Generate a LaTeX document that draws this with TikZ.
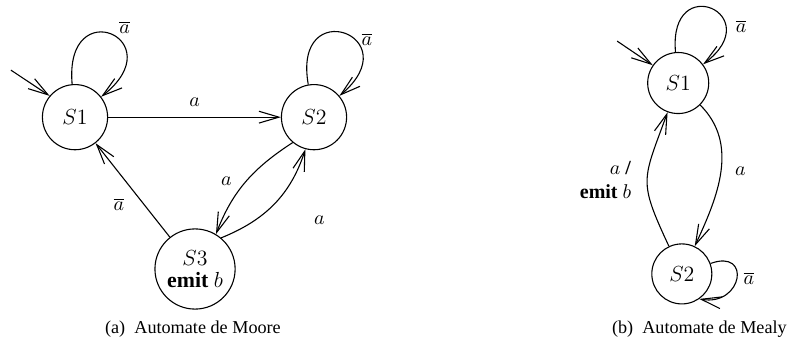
\documentclass[tikz,border=0pt]{standalone}
\usepackage[no-math]{fontspec}
\setmainfont{Liberation Serif}
\usetikzlibrary{arrows.meta,positioning}
\tikzset{
  st/.style    ={draw, circle, minimum size=12.6mm, inner sep=0pt,
                 line width=0.6pt, font=\large},
  trans/.style ={-{Straight Barb[length=11pt, width=6.5pt]}, line width=0.6pt},
  lbl/.style   ={font=\fontsize{11}{13}\selectfont, inner sep=1.5pt},
  capt/.style  ={font=\normalsize},
}

\begin{document}
\begin{tikzpicture}
  \useasboundingbox (0,0) rectangle (15.31,6.785);
  % automate de Moore
  \node[st] (s1) at (1.45,4.52) {$S1$};
  \node[st] (s2) at (6.07,4.52) {$S2$};
  \node[st, minimum size=15.5mm, align=center] (s3) at (3.77,1.585)
    {$S3$\\[-2pt]\textbf{emit} $b$};
  \coordinate (i1) at (0.21,5.43);
  \draw[trans] (i1) -- (s1.140);
  \draw[trans] (s1) to[out=95, in=38, distance=1.8cm]
    node[lbl, pos=0.55, above right] {$\overline{a}$} (s1);
  \draw[trans] (s2) to[out=100, in=40, distance=1.8cm]
    node[lbl, pos=0.6, right=2pt] {$\overline{a}$} (s2);
  \draw[trans] (s1) -- (s2) node[lbl, midway, above=4pt] {$a$};
  \draw[trans] (s3) -- (s1) node[lbl, pos=0.35, left=9pt] {$\overline{a}$};
  \draw[trans] (s2.230) to[out=213, in=69]
    node[lbl, midway, left=6pt] {$a$} (s3.59);
  \draw[trans] (s3.50) to[out=22, in=252]
    node[lbl, midway, below right=5pt and 20pt] {$a$} (s2.255);
  \node[capt] (ca) at (3.73,0.425) {(a)\enspace Automate de Moore};

  % automate de Mealy
  \node[st, minimum size=11.8mm] (m1) at (13.11,5.18) {$S1$};
  \node[st, minimum size=11.6mm] (m2) at (13.18,1.49) {$S2$};
  \coordinate (i2) at (11.93,5.99);
  \draw[trans] (i2) -- (m1.145);
  \draw[trans] (m1) to[out=95, in=37, distance=1.6cm]
    node[lbl, pos=0.72, right=4pt] {$\overline{a}$} (m1);
  \draw[trans] (m2.20) to[out=20, in=-10, distance=0.85cm]
    node[lbl, pos=0.5, right=2pt] {$\overline{a}$} (m2.-55);
  \draw[trans] (m1) to[out=-45, in=65]
    node[lbl, midway, right=6pt] {$a$} (m2);
  \draw[trans] (m2) to[out=115, in=250, looseness=1.4]
    node[lbl, midway, left=7pt, align=right]
    {$a$ \textbf{/}\\\textbf{emit} $b$} (m1);
  \node[capt] (cb) at (13.52,0.425) {(b)\enspace Automate de Mealy};
\end{tikzpicture}
\end{document}
